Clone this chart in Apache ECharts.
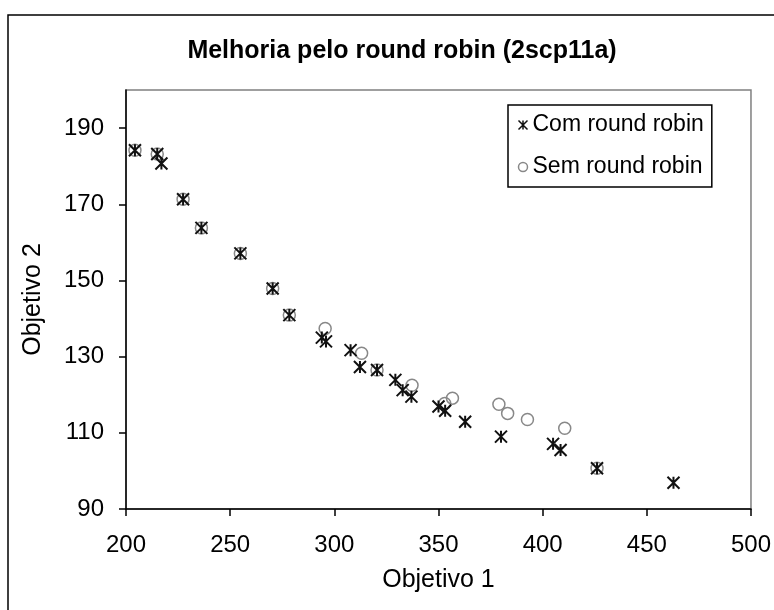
<!DOCTYPE html>
<html><head><meta charset="utf-8">
<script src="https://cdn.jsdelivr.net/npm/echarts@6/dist/echarts.min.js"></script>
<style>html,body{margin:0;padding:0;background:#fff}#c{width:774px;height:610px}</style>
</head><body><div id="c"></div>
<script>
var title = 'Melhoria pelo round robin (2scp11a)';
var xName = 'Objetivo 1';
var yName = 'Objetivo 2';
var seriesNames = ['Com round robin', 'Sem round robin'];
var comX = [204.3, 215, 217, 227.4, 236.2, 254.9, 270.4, 278.4, 294, 296, 307.8, 312.3, 320.5, 329.3, 332.8, 337, 350, 353.2, 362.8, 380, 405, 408.6, 426.1, 462.8];
var comY = [184.2, 183.2, 180.7, 171.3, 163.8, 157.1, 147.9, 140.9, 135, 134, 131.7, 127.3, 126.5, 123.9, 121.2, 119.5, 116.9, 115.8, 112.9, 109, 107.1, 105.5, 100.7, 96.9];
var semX = [204.3, 215, 227.4, 236.2, 254.9, 270.4, 278.4, 295.6, 313.1, 320.5, 337.3, 353, 356.7, 379, 383.2, 392.7, 410.6, 426.1];
var semY = [184.2, 183.2, 171.3, 163.8, 157.1, 147.9, 140.9, 137.4, 130.9, 126.5, 122.5, 117.7, 119.1, 117.5, 115.1, 113.5, 111.2, 100.7];
var xTicks = {min: 200, max: 500, interval: 50};
var yTicks = {min: 90, max: 200, interval: 20};

function pairs(xs, ys) { return xs.map(function (v, i) { return [v, ys[i]]; }); }
var star = 'path://M0,0L10,10M10,0L0,10M5,0L5,10';
var font = '"Liberation Sans", Arial, sans-serif';

var chart = echarts.init(document.getElementById('c'), null, {renderer: 'canvas'});
chart.setOption({
  animation: false,
  backgroundColor: '#fff',
  title: {text: title, left: 397, top: 34, textAlign: 'center',
    textStyle: {fontFamily: font, fontWeight: 'bold', fontSize: 25, color: '#000'}},
  graphic: [{type: 'rect', shape: {x: 8, y: 15, width: 900, height: 800},
    style: {fill: 'none', stroke: '#000', lineWidth: 1.5}, silent: true, z: 0}],
  grid: {left: 126, right: 18, top: 90, bottom: 101, show: true, borderColor: '#808080', borderWidth: 1.5, backgroundColor: '#fff'},
  legend: {orient: 'vertical', left: 508, top: 105, itemWidth: 9, itemHeight: 9, itemGap: 18,
    padding: [8, 8, 8, 8], borderColor: '#000', borderWidth: 1.5, backgroundColor: '#fff',
    textStyle: {fontFamily: font, fontSize: 23, lineHeight: 24, color: '#000'},
    data: [
      {name: seriesNames[0], icon: star, itemStyle: {color: 'none', borderColor: '#111', borderWidth: 1.5}},
      {name: seriesNames[1], icon: 'circle', itemStyle: {color: 'none', borderColor: '#888', borderWidth: 1.5}}
    ]},
  xAxis: {type: 'value', min: xTicks.min, max: xTicks.max, interval: xTicks.interval,
    name: xName, nameLocation: 'middle', nameGap: 59,
    nameTextStyle: {fontFamily: font, fontSize: 25, color: '#000'},
    axisLine: {show: true, lineStyle: {color: '#000', width: 1.5}},
    axisTick: {show: true, inside: false, length: 7, lineStyle: {color: '#000', width: 1.5}},
    axisLabel: {fontFamily: font, fontSize: 24, color: '#000', margin: 24},
    splitLine: {show: false}},
  yAxis: {type: 'value', min: yTicks.min, max: yTicks.max, interval: yTicks.interval,
    name: yName, nameLocation: 'middle', nameGap: 80, nameRotate: 90,
    nameTextStyle: {fontFamily: font, fontSize: 25, color: '#000'},
    axisLine: {show: true, lineStyle: {color: '#000', width: 1.5}},
    axisTick: {show: true, inside: false, length: 7, lineStyle: {color: '#000', width: 1.5}},
    axisLabel: {fontFamily: font, fontSize: 24, color: '#000', margin: 22, showMaxLabel: false},
    splitLine: {show: false}},
  series: [
    {name: seriesNames[1], type: 'scatter', data: pairs(semX, semY), symbol: 'circle', symbolSize: 12,
      itemStyle: {color: 'none', borderColor: '#888', borderWidth: 1.5, opacity: 1}, z: 2},
    {name: seriesNames[0], type: 'scatter', data: pairs(comX, comY), symbol: star, symbolSize: 12,
      itemStyle: {color: 'none', borderColor: '#111', borderWidth: 2, opacity: 1}, z: 3}
  ]
});
</script></body></html>
